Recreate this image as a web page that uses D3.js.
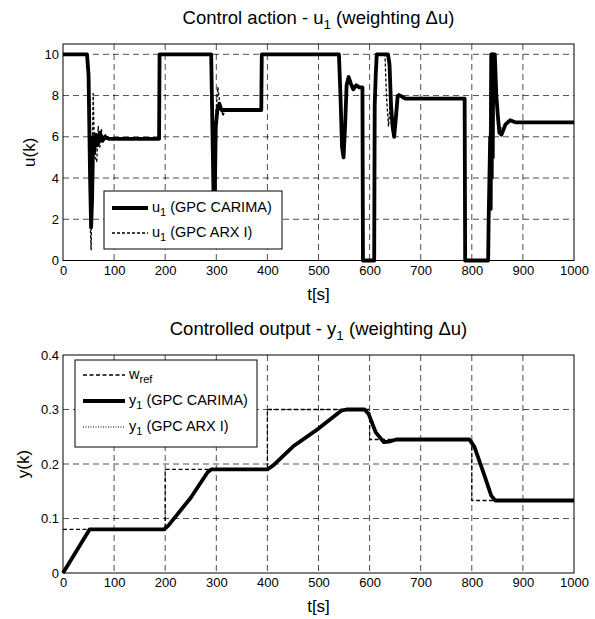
<!DOCTYPE html>
<html>
<head>
<meta charset="utf-8">
<script src="https://cdn.jsdelivr.net/npm/d3@7"></script>
<style>
  body { margin: 0; background: #fff; }
  svg { font-family: "Liberation Sans", Arial, sans-serif; }
</style>
</head>
<body>
<svg id="chart" width="595" height="619"></svg>
<script>
// ---- data ----
const xTicks = [0, 100, 200, 300, 400, 500, 600, 700, 800, 900, 1000];
const uTicks = [0, 2, 4, 6, 8, 10];
const yTicks = [0, 0.1, 0.2, 0.3, 0.4];

// control action, GPC CARIMA  [t, u]
const uCarima = [[0,10],[47,10],[50,9],[53,4],[55,1.6],[57,3],[59,6],[61,5.2],[64,6.1],[68,5.6],[72,6.2],[77,5.8],[82,6.0],[90,5.9],[188,5.9],[189,10],
  [290,10],[292,7],[295,2.5],[297,3],[299,6.5],[302,7.3],[306,7.6],[310,7.3],[388,7.3],[389,10],
  [540,10],[543,8],[546,5.5],[549,5],[552,6.5],[555,8.5],[559,8.9],[563,8.6],[568,8.3],[574,8.5],[580,8.4],[586,8.4],[587,0],
  [609,0],[610,7.5],[612,9],[614,10],[636,10],[639,9.5],[642,7.5],[645,6.5],[648,6.0],[651,6.8],[655,8.0],[660,8.0],[670,7.85],
  [786,7.85],[787,0],[832,0],[833,2],[836,6],[837,2.5],[838,10],[839,4],[840,10],[841,5],[842,10],[845,10],[848,8],[851,7],[854,6.2],[858,6.1],[866,6.6],[875,6.8],[885,6.7],[1000,6.7]];

// control action, GPC ARX I
const uArx = [[0,10],[47,10],[50,8],[53,2],[55,0.5],[57,4],[59,8.1],[61,6],[63,5],[66,4.8],[69,6.5],[72,5.5],[75,6.4],[78,5.7],[83,6.1],[90,5.9],[188,5.9],[189,10],
  [290,10],[292,7],[295,3],[299,7],[303,8.4],[306,7.8],[309,7.5],[313,7.0],[318,7.4],[325,7.3],[388,7.3],[389,10],
  [540,10],[543,8],[546,5.5],[549,5.1],[552,6.5],[555,8.5],[559,8.9],[563,8.6],[568,8.3],[574,8.5],[586,8.4],[587,0],
  [609,0],[610,7.5],[612,9.5],[614,10],[630,10],[633,8],[637,6.5],[640,7.5],[644,6.3],[648,6.2],[652,7.5],[657,8.1],[665,7.85],
  [786,7.85],[787,0],[832,0],[834,5],[837,10],[840,6],[842,10],[845,10],[848,8],[852,6.8],[856,6.4],[862,6.5],[872,6.8],[885,6.7],[1000,6.7]];

// reference trajectory
const wRef = [[0,0.08],[200,0.08],[200,0.19],[400,0.19],[400,0.30],[600,0.30],[600,0.245],[800,0.245],[800,0.133],[1000,0.133]];

// controlled output, GPC CARIMA
const yCarima = [[0,0],[52,0.08],[60,0.08],[198,0.08],[206,0.087],[250,0.138],[283,0.185],[290,0.19],[400,0.19],[412,0.198],[450,0.232],[500,0.265],[545,0.298],[555,0.30],
  [590,0.30],[598,0.292],[612,0.258],[628,0.24],[638,0.241],[652,0.245],[795,0.245],[805,0.232],[825,0.178],[838,0.142],[846,0.133],[1000,0.133]];

// controlled output, GPC ARX I
const yArx = [[0,0],[52,0.079],[60,0.079],[198,0.079],[206,0.086],[250,0.137],[283,0.184],[290,0.189],[400,0.189],[412,0.197],[450,0.231],[500,0.264],[545,0.297],[555,0.299],
  [590,0.299],[598,0.291],[612,0.257],[628,0.24],[638,0.241],[652,0.244],[795,0.244],[805,0.231],[825,0.177],[838,0.141],[846,0.133],[1000,0.133]];

const svg = d3.select("#chart");

function panel(opt) {
  const left = 63, right = 574;
  const x = d3.scaleLinear().domain([0, 1000]).range([left, right]);
  const y = d3.scaleLinear().domain(opt.ydom).range([opt.bottom, opt.top]);

  const g = svg.append("g");

  // grid
  g.append("g").selectAll("line").data(xTicks.slice(1, -1)).join("line")
    .attr("x1", d => x(d)).attr("x2", d => x(d))
    .attr("y1", opt.top).attr("y2", opt.bottom)
    .attr("stroke", "#000").attr("stroke-width", 0.7).attr("stroke-dasharray", "6,4");
  g.append("g").selectAll("line").data(opt.yticks.filter(d => y(d) > opt.top + 1 && y(d) < opt.bottom - 1)).join("line")
    .attr("x1", left).attr("x2", right)
    .attr("y1", d => y(d)).attr("y2", d => y(d))
    .attr("stroke", "#000").attr("stroke-width", 0.7).attr("stroke-dasharray", "6,4");

  // axes (labels only, frame drawn below)
  const xAxis = g.append("g")
    .attr("transform", `translate(0,${opt.bottom})`)
    .call(d3.axisBottom(x).tickValues(xTicks).tickSize(0).tickPadding(5).tickFormat(d3.format("d")));
  const yAxis = g.append("g")
    .attr("transform", `translate(${left},0)`)
    .call(d3.axisLeft(y).tickValues(opt.yticks).tickSize(0).tickPadding(4).tickFormat(opt.yfmt));
  [xAxis, yAxis].forEach(a => {
    a.select(".domain").remove();
    a.selectAll("text").attr("font-size", 13).attr("fill", "#000")
      .attr("font-family", "Liberation Sans, Arial, sans-serif");
  });

  // series
  const line = d3.line().x(d => x(d[0])).y(d => y(d[1]));
  opt.series.forEach(s => {
    g.append("path").datum(s.data)
      .attr("d", line)
      .attr("fill", "none").attr("stroke", "#000")
      .attr("stroke-width", s.w)
      .attr("stroke-linejoin", "round")
      .attr("stroke-dasharray", s.dash || null);
  });

  // frame
  g.append("rect")
    .attr("x", left).attr("y", opt.top)
    .attr("width", right - left).attr("height", opt.bottom - opt.top)
    .attr("fill", "none").attr("stroke", "#000").attr("stroke-width", 1);

  // title
  const t = g.append("text")
    .attr("x", (left + right) / 2).attr("y", opt.titleY)
    .attr("text-anchor", "middle").attr("font-size", 18.5);
  t.append("tspan").text(opt.title[0]);
  t.append("tspan").attr("dy", 5).attr("font-size", 13.5).text("1");
  t.append("tspan").attr("dy", -5).text(opt.title[1]);

  // axis labels
  g.append("text")
    .attr("x", (left + right) / 2).attr("y", opt.bottom + 39)
    .attr("text-anchor", "middle").attr("font-size", 17).text("t[s]");
  g.append("text")
    .attr("transform", `translate(${opt.ylabX},${(opt.top + opt.bottom) / 2}) rotate(-90)`)
    .attr("text-anchor", "middle").attr("font-size", 17).text(opt.ylabel);

  // legend
  const L = opt.legend;
  const lg = g.append("g");
  lg.append("rect")
    .attr("x", L.x).attr("y", L.y).attr("width", L.w).attr("height", L.h)
    .attr("fill", "#fff").attr("stroke", "#000").attr("stroke-width", 1);
  L.items.forEach((it, i) => {
    const yy = L.y + L.first + i * L.step;
    lg.append("line")
      .attr("x1", L.x + 8).attr("x2", L.x + 8 + L.len)
      .attr("y1", yy).attr("y2", yy)
      .attr("stroke", "#000").attr("stroke-width", it.w)
      .attr("stroke-dasharray", it.dash || null);
    const tx = lg.append("text")
      .attr("x", L.x + 12 + L.len).attr("y", yy + 4)
      .attr("font-size", 14.5);
    tx.append("tspan").text(it.label[0]);
    tx.append("tspan").attr("dy", 4).attr("font-size", 11).text(it.label[1]);
    if (it.label[2]) tx.append("tspan").attr("dy", -4).text(it.label[2]);
  });
}

panel({
  top: 44, bottom: 260.5, ydom: [0, 10.5], yticks: uTicks, yfmt: d3.format("d"),
  title: ["Control action - u", " (weighting \u0394u)"], titleY: 24,
  ylabel: "u(k)", ylabX: 35,
  series: [
    { data: uArx, w: 1.3, dash: "3,2" },
    { data: uCarima, w: 3.8 }
  ],
  legend: {
    x: 104, y: 191, w: 178, h: 58, first: 17, step: 25, len: 36,
    items: [
      { w: 4, label: ["u", "1", " (GPC CARIMA)"] },
      { w: 1.3, dash: "3,2", label: ["u", "1", " (GPC ARX I)"] }
    ]
  }
});

panel({
  top: 355, bottom: 573, ydom: [0, 0.4], yticks: yTicks, yfmt: d => d === 0 ? "0" : d3.format(".1f")(d),
  title: ["Controlled output - y", " (weighting \u0394u)"], titleY: 335,
  ylabel: "y(k)", ylabX: 29,
  series: [
    { data: wRef, w: 1.3, dash: "4,2.5" },
    { data: yCarima, w: 3.8 },
    { data: yArx, w: 1.2, dash: "1,1.5" }
  ],
  legend: {
    x: 75, y: 360, w: 182, h: 87, first: 15, step: 26, len: 42,
    items: [
      { w: 1.3, dash: "4,2.5", label: ["w", "ref", ""] },
      { w: 4, label: ["y", "1", " (GPC CARIMA)"] },
      { w: 1.2, dash: "1,1.5", label: ["y", "1", " (GPC ARX I)"] }
    ]
  }
});
</script>
</body>
</html>
